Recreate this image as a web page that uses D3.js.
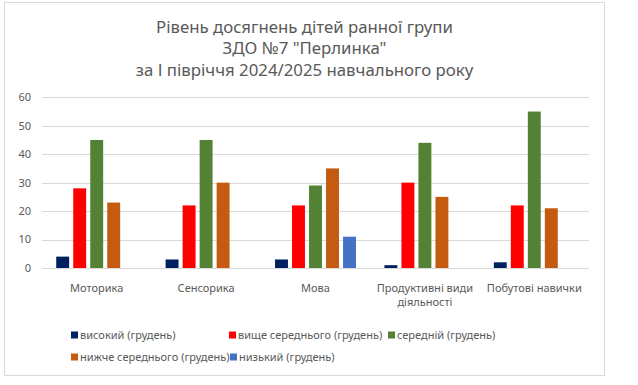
<!DOCTYPE html>
<html>
<head>
<meta charset="utf-8">
<script src="https://cdn.jsdelivr.net/npm/d3@7"></script>
<style>
  body { margin: 0; background: #fff; }
  svg { display: block; font-family: "Noto Sans", sans-serif; }
</style>
</head>
<body>
<div id="chart"></div>
<script>
const categories = ["Моторика", "Сенсорика", "Мова", "Продуктивні види діяльності", "Побутові навички"];
const series = ["високий (грудень)", "вище середнього (грудень)", "середній (грудень)", "нижче середнього (грудень)", "низький (грудень)"];
const colors = ["#002060", "#ff0000", "#548235", "#c55a11", "#4472c4"];
const values = [
  [4, 3, 3, 1, 2],
  [28, 22, 22, 30, 22],
  [45, 45, 29, 44, 55],
  [23, 30, 35, 25, 21],
  [0, 0, 11, 0, 0]
];
const yTicks = [0, 10, 20, 30, 40, 50, 60];
const titleLines = ["Рівень досягнень дітей ранної групи", "ЗДО №7 \"Перлинка\"", "за І півріччя 2024/2025 навчального року"];

const width = 638, height = 385;
const svg = d3.select("#chart").append("svg")
  .attr("width", width)
  .attr("height", height);

// chart frame
svg.append("rect")
  .attr("x", 4.5).attr("y", 2.5)
  .attr("width", 600).attr("height", 373)
  .attr("fill", "#fff")
  .attr("stroke", "#d9d9d9");

// title
svg.append("g")
  .attr("fill", "#595959")
  .attr("font-size", 16.8)
  .attr("text-anchor", "middle")
  .selectAll("text")
  .data(titleLines)
  .join("text")
  .attr("x", 304.5)
  .attr("y", (d, i) => 27 + i * 21.5)
  .attr("dy", "0.35em")
  .text(d => d);

const x0 = d3.scaleBand()
  .domain(categories)
  .range([42, 589])
  .paddingInner(0.26)
  .paddingOuter(0.13);

const x1 = d3.scaleBand()
  .domain(series)
  .range([0, x0.bandwidth()])
  .paddingInner(0.24);

const y = d3.scaleLinear()
  .domain([0, 60])
  .range([268, 97.3]);

// grid
svg.append("g")
  .attr("stroke", "#d9d9d9")
  .selectAll("line")
  .data(yTicks)
  .join("line")
  .attr("x1", 42).attr("x2", 589)
  .attr("y1", d => Math.round(y(d)) + 0.5)
  .attr("y2", d => Math.round(y(d)) + 0.5);

// y axis labels
svg.append("g")
  .attr("fill", "#595959")
  .attr("font-size", 11)
  .attr("text-anchor", "end")
  .selectAll("text")
  .data(yTicks)
  .join("text")
  .attr("x", 31)
  .attr("y", d => y(d))
  .attr("dy", "0.35em")
  .text(d => d);

// bars
const rows = categories.map((c, ci) => ({ c, vals: series.map((s, si) => ({ s, si, v: values[si][ci] })) }));
svg.append("g")
  .selectAll("g")
  .data(rows)
  .join("g")
  .attr("transform", d => `translate(${x0(d.c)},0)`)
  .selectAll("rect")
  .data(d => d.vals.filter(e => e.v > 0))
  .join("rect")
  .attr("x", d => x1(d.s))
  .attr("y", d => y(d.v))
  .attr("width", x1.bandwidth())
  .attr("height", d => y(0) - y(d.v))
  .attr("fill", d => colors[d.si]);

// category labels (wrapped)
const catLines = { "Продуктивні види діяльності": ["Продуктивні види", "діяльності"] };
svg.append("g")
  .attr("fill", "#595959")
  .attr("font-size", 11)
  .attr("text-anchor", "middle")
  .selectAll("text")
  .data(categories)
  .join("text")
  .attr("transform", d => `translate(${x0(d) + x0.bandwidth() / 2},288)`)
  .selectAll("tspan")
  .data(d => catLines[d] || [d])
  .join("tspan")
  .attr("x", 0)
  .attr("y", (d, i) => i * 14.5)
  .attr("dy", "0.35em")
  .text(d => d);

// legend
const legendPos = [[71, 335], [229, 335], [388, 335], [71, 357], [230, 357]];
const legend = svg.append("g")
  .attr("font-size", 11)
  .attr("fill", "#595959")
  .selectAll("g")
  .data(series)
  .join("g")
  .attr("transform", (d, i) => `translate(${legendPos[i][0]},${legendPos[i][1]})`);
legend.append("rect")
  .attr("x", 0).attr("y", -3.5)
  .attr("width", 7).attr("height", 7)
  .attr("fill", (d, i) => colors[i]);
legend.append("text")
  .attr("x", 9)
  .attr("dy", "0.35em")
  .text(d => d);
</script>
</body>
</html>
